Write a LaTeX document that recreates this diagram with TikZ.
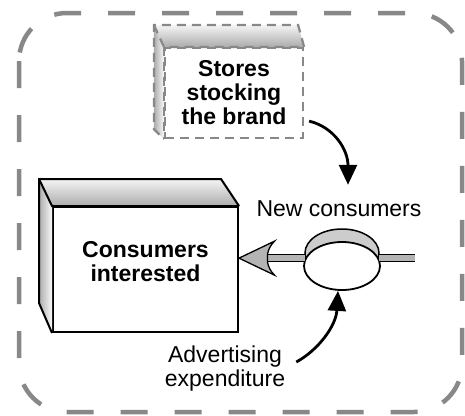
\documentclass[tikz,border=0pt]{standalone}
\usepackage{fontspec}
\setmainfont{Liberation Sans}
\usetikzlibrary{arrows.meta,shapes.geometric,calc}
\definecolor{bordergray}{HTML}{888888}
\definecolor{pipegray}{HTML}{B4B4B4}
\begin{document}
\begin{tikzpicture}[x=1pt,y=-1pt,
  boldlabel/.style={font=\fontsize{23}{24}\selectfont\bfseries, align=center, inner sep=0pt},
  plainlabel/.style={font=\fontsize{23}{24}\selectfont, align=center, inner sep=0pt},
  outerframe/.style={draw=bordergray, line width=4.5pt, dash pattern=on 27pt off 27pt, rounded corners=48pt},
  storeedge/.style={draw=bordergray, line width=2.2pt, dash pattern=on 9pt off 6pt},
  boxedge/.style={draw=black, line width=2pt, line join=miter},
  infoarrow/.style={draw=black, line width=2.8pt, -{Triangle[length=20pt,width=18pt]}},
  pipe/.style={draw=black, line width=1.3pt, double=pipegray, double distance=5.5pt},
]
\useasboundingbox (0,0) rectangle (465,415);

% outer dashed frame
\draw[outerframe] (19,13) rectangle (462,412);

% ---- Stores stocking the brand (dashed 3D box)
\node[boldlabel, storeedge, minimum width=138pt, minimum height=90pt] (stores) at (234,93) {Stores\\stocking\\the brand};
\coordinate (sBTL) at ($(stores.north west)+(-10,-22)$);
\coordinate (sBTR) at ($(stores.north east)+(-6,-22)$);
\coordinate (sBBL) at ($(stores.south west)+(-10,-10)$);
\shade[top color=gray!8, bottom color=gray!65] (sBTL) -- (sBTR) -- (stores.north east) -- (stores.north west) -- cycle;
\shade[left color=gray!65, right color=gray!5] (sBTL) -- (stores.north west) -- (stores.south west) -- (sBBL) -- cycle;
\draw[storeedge] (stores.north east) -- (sBTR) -- (sBTL) -- (sBBL) -- (stores.south west);
\draw[storeedge] (sBTL) -- (stores.north west) -- (stores.north east);
\draw[storeedge] (stores.north west) -- (stores.south west);

% ---- Consumers interested (solid 3D box)
\node[boxedge, minimum width=185pt, minimum height=125pt, inner sep=0pt] (cons) at (145.5,269.5) {};
\node[boldlabel] (constext) at ($(cons.center)+(0,-8)$) {Consumers\\interested};
\coordinate (cBTL) at ($(cons.north west)+(-13,-27)$);
\coordinate (cBTR) at ($(cons.north east)+(-18,-27)$);
\coordinate (cBBL) at ($(cons.south west)+(-13,-30)$);
\shade[top color=gray!8, bottom color=gray!65] (cBTL) -- (cBTR) -- (cons.north east) -- (cons.north west) -- cycle;
\shade[left color=gray!65, right color=gray!5] (cBTL) -- (cons.north west) -- (cons.south west) -- (cBBL) -- cycle;
\draw[boxedge] (cons.north east) -- (cBTR) -- (cBTL) -- (cBBL) -- (cons.south west);
\draw[boxedge] (cBTL) -- (cons.north west) -- (cons.north east);

% ---- valve
\draw[black, line width=1.5pt, fill=gray!40] (342,253) ellipse [x radius=37, y radius=24];
\node[ellipse, draw=black, line width=1.8pt, fill=white, minimum width=76pt, minimum height=48pt, inner sep=0pt] (valve) at (342,266) {};

% ---- pipes
\coordinate (pipeend) at (415,0);
\draw[pipe] (valve.12) -- (valve.12 -| pipeend);
\coordinate (tip) at (cons.east |- valve.168);
\draw[pipe] (valve.168) -- ($(tip)+(29,0)$);
\draw[black, line width=1.3pt, fill=pipegray, line join=miter]
  (tip) -- ++(35.5,-17) .. controls +(-4,4) and +(1,-5) .. ($(tip)+(28.5,-4)$)
  -- ($(tip)+(28.5,4)$) .. controls +(1,5) and +(-4,-4) .. ($(tip)+(35.5,17)$) -- cycle;

% ---- labels
\node[plainlabel] (newc) at (339,209) {New consumers};
\node[plainlabel] (adv) at (225,369) {Advertising\\expenditure};

% ---- information arrows
\coordinate (s1) at ($(stores.south east)+(5,-18)$);
\coordinate (t1) at ($(newc.north)+(9,-16)$);
\draw[infoarrow] (s1) .. controls +(25,6) and +(0,-35) .. (t1);
\coordinate (s2) at ($(adv.east)+(11,-7)$);
\draw[infoarrow] (s2) .. controls +(22,-12) and +(-2,35) .. ($(valve.south)+(-4,0)$);
\end{tikzpicture}
\end{document}
